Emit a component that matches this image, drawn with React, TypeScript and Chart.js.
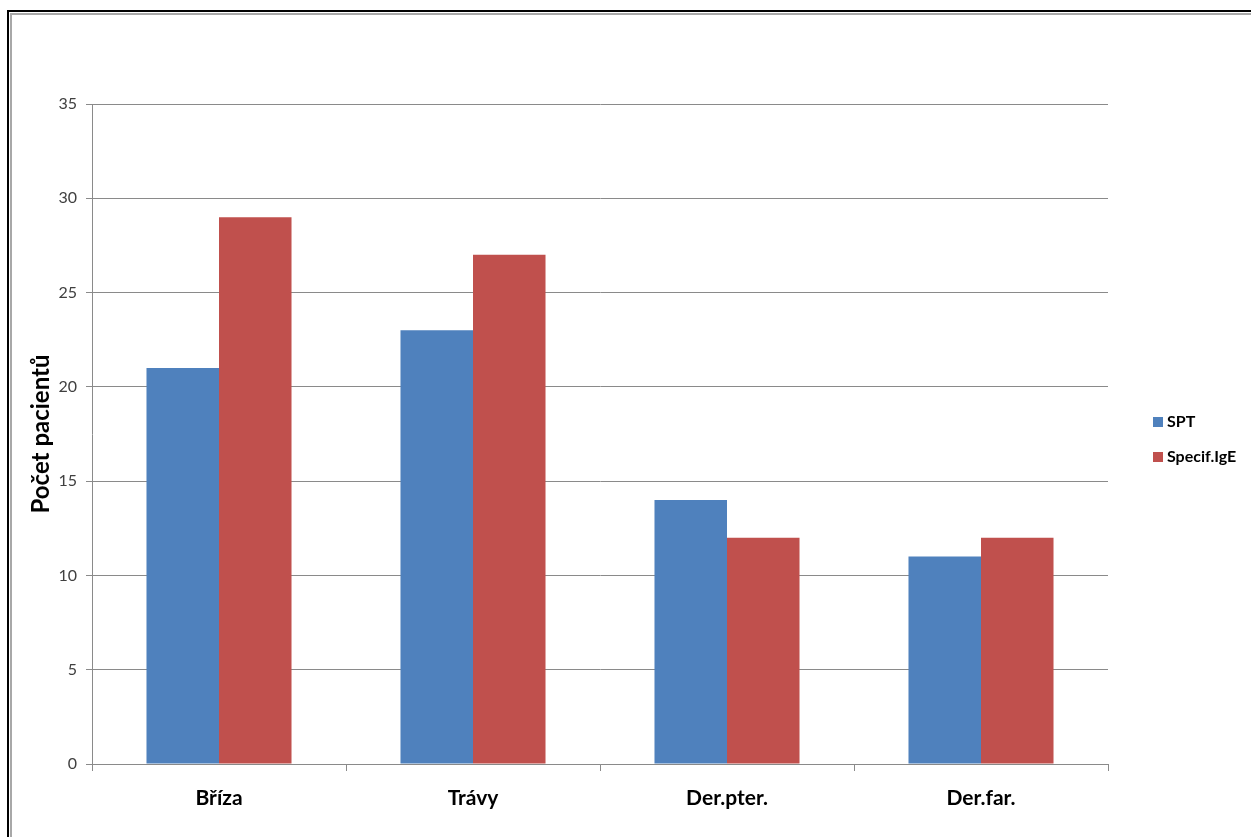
import React, { useEffect, useRef } from "react";
import { Chart, registerables } from "chart.js";

Chart.register(...registerables);

const categories = ["Bříza", "Trávy", "Der.pter.", "Der.far."];
const seriesNames = ["SPT", "Specif.IgE"];
const sptValues = [21, 23, 14, 11];
const igeValues = [29, 27, 12, 12];
const seriesColors = ["#4F81BD", "#C0504D"];
const yTitle = "Počet pacientů";
const yMin = 0;
const yMax = 35;
const yStep = 5;

const FONT = "Lato, 'Open Sans', 'DejaVu Sans', sans-serif";
const GRID = "#8a8a8a";

const legendPlugin = {
  id: "customLegend",
  afterDraw(chart: any) {
    const ctx = chart.ctx;
    ctx.save();
    ctx.font = `bold 16px ${FONT}`;
    ctx.textBaseline = "middle";
    ctx.textAlign = "left";
    chart.data.datasets.forEach((ds: any, i: number) => {
      const y = 417 + i * 35;
      ctx.fillStyle = ds.backgroundColor;
      ctx.fillRect(1153, y, 10, 10);
      ctx.fillStyle = "#000";
      ctx.fillText(ds.label, 1167, y + 5);
    });
    ctx.restore();
  },
};

export default function App() {
  const canvasRef = useRef<HTMLCanvasElement | null>(null);

  useEffect(() => {
    const canvas = canvasRef.current;
    if (!canvas) return;
    const chart = new Chart(canvas, {
      type: "bar",
      data: {
        labels: categories,
        datasets: [
          { label: seriesNames[0], data: sptValues, backgroundColor: seriesColors[0] },
          { label: seriesNames[1], data: igeValues, backgroundColor: seriesColors[1] },
        ],
      },
      options: {
        animation: false,
        responsive: false,
        maintainAspectRatio: false,
        layout: { padding: { left: 0, top: 104, right: 143, bottom: 0 } },
        datasets: { bar: { categoryPercentage: 0.571, barPercentage: 1 } },
        plugins: {
          legend: { display: false },
          tooltip: { enabled: false },
        },
        scales: {
          x: {
            afterFit: (scale: any) => {
              scale.height = 73;
            },
            grid: {
              display: true,
              drawOnChartArea: false,
              drawTicks: true,
              tickLength: 7,
              color: GRID,
              offset: true,
            },
            border: { display: true, color: GRID },
            ticks: {
              color: "#000",
              padding: 15,
              font: { family: FONT, size: 21, weight: "bold" },
            },
          },
          y: {
            min: yMin,
            max: yMax,
            afterFit: (scale: any) => {
              scale.width = 92;
            },
            ticks: {
              stepSize: yStep,
              color: "#404040",
              padding: 9,
              font: { family: FONT, size: 16 },
            },
            grid: { color: GRID, tickLength: 6, drawTicks: true },
            border: { display: true, color: GRID },
            title: {
              display: true,
              text: yTitle,
              color: "#000",
              padding: { top: 27, bottom: 0 },
              font: { family: FONT, size: 24, weight: "bold" },
            },
          },
        },
      },
      plugins: [legendPlugin],
    });
    return () => chart.destroy();
  }, []);

  return (
    <div
      style={{
        position: "fixed",
        left: 0,
        top: 0,
        width: 1251,
        height: 837,
        background: "#fff",
        overflow: "hidden",
      }}
    >
      <canvas
        ref={canvasRef}
        width={1251}
        height={837}
        style={{ position: "absolute", left: 0, top: 0, width: 1251, height: 837 }}
      />
      <div
        style={{
          position: "absolute",
          left: 7,
          top: 10,
          width: 2000,
          height: 2000,
          borderLeft: "2px solid #000",
          borderTop: "2px solid #000",
          pointerEvents: "none",
        }}
      />
      <div
        style={{
          position: "absolute",
          left: 10,
          top: 13,
          width: 2000,
          height: 2000,
          borderLeft: "2px solid #a8a8a8",
          borderTop: "2px solid #a8a8a8",
          pointerEvents: "none",
        }}
      />
    </div>
  );
}
